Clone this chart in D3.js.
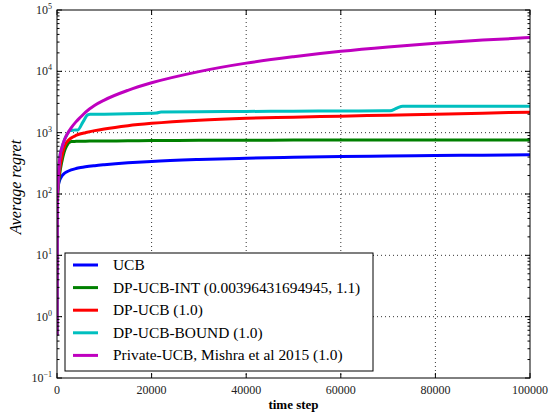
<!DOCTYPE html>
<meta charset="utf-8">
<script src="https://d3js.org/d3.v7.min.js"></script>
<style>
  body { margin: 0; background: #fff; }
  svg text { font-family: "Liberation Serif", "Times New Roman", serif; }
</style>
<div id="chart"></div>
<script>
// time steps shared by the smooth curves
var steps = [0, 60, 300, 600, 1000, 1500, 2000, 3000, 4000, 5000, 6000, 8000, 10000,
  15000, 20000, 30000, 40000, 50000, 60000, 70000, 80000, 90000, 100000];
var ucb = [0.5, 100, 140, 170, 195, 215, 228, 247, 260, 270, 278, 290, 300,
  322, 340, 365, 383, 397, 408, 417, 424, 430, 435];
var dpUcbInt = [0.5, 60, 140, 220, 330, 480, 600, 715, 722, 725, 727, 729, 731,
  738, 744, 750, 754, 756, 758, 758, 759, 760, 760];
var dpUcb = [0.5, 70, 160, 260, 400, 580, 690, 820, 900, 960, 1000, 1080, 1150,
  1300, 1420, 1600, 1720, 1790, 1860, 1930, 2000, 2080, 2160];
var privateUcb = [0.5, 60, 200, 400, 560, 740, 900, 1200, 1500, 1800, 2150, 2800, 3400,
  4900, 6500, 9900, 13600, 17300, 21200, 25000, 28800, 32300, 35500];
// the bound curve has steps, so it gets its own time points
var boundSteps = [0, 60, 300, 600, 1000, 1500, 2000, 2750, 3500, 4400, 5500, 6500, 7000,
  10000, 15000, 20000, 21000, 22000, 30000, 40000, 50000, 60000, 69000, 70400, 71800, 73100, 80000, 100000];
var dpUcbBound = [0.5, 60, 200, 400, 560, 740, 900, 1080, 1100, 1110, 1500, 1950, 1990,
  2000, 2030, 2080, 2090, 2170, 2190, 2220, 2240, 2260, 2270, 2280, 2500, 2700, 2700, 2700];

var labels = ["UCB", "DP-UCB-INT (0.00396431694945, 1.1)", "DP-UCB (1.0)",
  "DP-UCB-BOUND (1.0)", "Private-UCB, Mishra et al 2015 (1.0)"];
var colors = ["#0000ff", "#008000", "#ff0000", "#00bfbf", "#bf00bf"];
var xTicks = [0, 20000, 40000, 60000, 80000, 100000];
var yExps = [-1, 0, 1, 2, 3, 4, 5];

var series = [
  {t: steps, v: ucb},
  {t: steps, v: dpUcbInt},
  {t: steps, v: dpUcb},
  {t: boundSteps, v: dpUcbBound},
  {t: steps, v: privateUcb}
];

var W = 552, H = 413;
var margin = {top: 10, right: 22, bottom: 35, left: 57};
var width = W - margin.left - margin.right,
    height = H - margin.top - margin.bottom;

var svg = d3.select("#chart").append("svg")
  .attr("width", W).attr("height", H);
var g = svg.append("g")
  .attr("transform", "translate(" + margin.left + "," + margin.top + ")");

var x = d3.scaleLinear().domain([0, 100000]).range([0, width]);
var y = d3.scaleLog().domain([0.1, 1e5]).range([height, 0]);

g.append("clipPath").attr("id", "clip")
  .append("rect").attr("width", width).attr("height", height);

// dotted grid
g.selectAll(".gx").data(xTicks.slice(1, -1)).enter().append("line")
  .attr("x1", d => x(d)).attr("x2", d => x(d))
  .attr("y1", 0).attr("y2", height)
  .attr("stroke", "#000").attr("stroke-width", 0.8).attr("stroke-dasharray", "1,3");
g.selectAll(".gy").data(yExps.slice(1, -1)).enter().append("line")
  .attr("y1", d => y(Math.pow(10, d))).attr("y2", d => y(Math.pow(10, d)))
  .attr("x1", 0).attr("x2", width)
  .attr("stroke", "#000").attr("stroke-width", 0.8).attr("stroke-dasharray", "1,3");

// curves
var line = d3.line()
  .x(d => x(d[0]))
  .y(d => y(d[1]))
  .curve(d3.curveMonotoneX);
var lines = g.append("g").attr("clip-path", "url(#clip)");
series.forEach(function(s, i) {
  lines.append("path")
    .datum(s.t.map((t, j) => [t, s.v[j]]))
    .attr("fill", "none")
    .attr("stroke", colors[i])
    .attr("stroke-width", 3)
    .attr("d", line);
});

// ticks (inside, on all four sides)
var minor = [];
for (var e = -1; e < 5; e++) for (var k = 2; k < 10; k++) minor.push(k * Math.pow(10, e));
function yTicks(vals, len) {
  g.selectAll(null).data(vals).enter().append("line")
    .attr("x1", 0).attr("x2", len)
    .attr("y1", d => y(d)).attr("y2", d => y(d)).attr("stroke", "#000");
  g.selectAll(null).data(vals).enter().append("line")
    .attr("x1", width).attr("x2", width - len)
    .attr("y1", d => y(d)).attr("y2", d => y(d)).attr("stroke", "#000");
}
yTicks(yExps.map(e => Math.pow(10, e)), 5);
yTicks(minor, 2.5);
g.selectAll(null).data(xTicks).enter().append("line")
  .attr("x1", d => x(d)).attr("x2", d => x(d))
  .attr("y1", height).attr("y2", height - 5).attr("stroke", "#000");
g.selectAll(null).data(xTicks).enter().append("line")
  .attr("x1", d => x(d)).attr("x2", d => x(d))
  .attr("y1", 0).attr("y2", 5).attr("stroke", "#000");

// frame
g.append("rect").attr("width", width).attr("height", height)
  .attr("fill", "none").attr("stroke", "#000").attr("stroke-width", 1);

// tick labels
g.selectAll(null).data(xTicks).enter().append("text")
  .attr("x", d => x(d)).attr("y", height + 16)
  .attr("text-anchor", "middle").attr("font-size", 12).attr("fill", "#222")
  .text(d => d);
var yl = g.selectAll(null).data(yExps).enter().append("text")
  .attr("x", -5).attr("y", d => y(Math.pow(10, d)) + 4)
  .attr("text-anchor", "end").attr("font-size", 12).attr("fill", "#222");
yl.append("tspan").text("10");
yl.append("tspan").attr("dy", -5).attr("font-size", 8)
  .text(d => d < 0 ? "\u2212" + (-d) : d);

// axis titles
svg.append("text")
  .attr("x", margin.left + width / 2).attr("y", H - 4)
  .attr("text-anchor", "middle").attr("font-size", 13).attr("font-weight", "bold")
  .text("time step");
svg.append("text")
  .attr("transform", "translate(21,187) rotate(-90)")
  .attr("text-anchor", "middle").attr("font-size", 16).attr("font-style", "italic")
  .text("Average regret");

// legend
var lg = g.append("g").attr("transform", "translate(8,243)");
lg.append("rect").attr("width", 308).attr("height", 118)
  .attr("fill", "#fff").attr("stroke", "#000").attr("stroke-width", 1);
labels.forEach(function(lab, i) {
  var yy = 12 + i * 22.6;
  lg.append("line").attr("x1", 8).attr("x2", 33).attr("y1", yy).attr("y2", yy)
    .attr("stroke", colors[i]).attr("stroke-width", 3);
  lg.append("text").attr("x", 48).attr("y", yy + 5)
    .attr("font-size", 15.4).text(lab);
});
</script>
